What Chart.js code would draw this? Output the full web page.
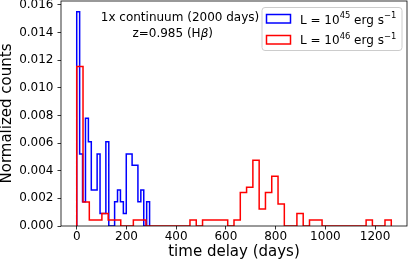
<!DOCTYPE html>
<html>
<head>
<meta charset="utf-8">
<script src="https://cdn.jsdelivr.net/npm/chart.js@4.4.0/dist/chart.umd.min.js"></script>
<style>
  html, body { margin: 0; padding: 0; background: #fff; }
</style>
</head>
<body>
<canvas id="chart" width="409" height="263"></canvas>
<script>
// histogram ranges (days), bins are equal width over the range
const blueRange = [0, 293];
const redRange = [0, 1265];

// normalized counts per bin
const blueCounts = [0.0155, 0.0052, 0.00175, 0.0078, 0.0061, 0.0026, 0.0026, 0.0052, 0.0009, 0.0009,
  0.0061, 0, 0, 0.00175, 0.0026, 0.00175, 0.0009, 0.0052, 0.0052, 0.0044,
  0.0044, 0.00175, 0.0026, 0, 0.00175];
const redCounts = [0.01153, 0.00174, 0.00044, 0.00044, 0.0009, 0.00044, 0.00044, 0, 0, 0.00044,
  0.00044, 0, 0, 0, 0, 0, 0, 0, 0.00044, 0,
  0.00044, 0.00044, 0.00044, 0.00044, 0, 0.00044, 0.00242, 0.00281, 0.00476, 0.00123,
  0.00242, 0.0036, 0.0016, 0, 0, 0.0009, 0, 0.00044, 0.00044, 0,
  0, 0, 0, 0, 0, 0, 0.00044, 0, 0, 0.00044];

const xTicks = [0, 200, 400, 600, 800, 1000, 1200];
const yTicks = [0, 0.002, 0.004, 0.006, 0.008, 0.010, 0.012, 0.014, 0.016];
const xLimits = [-63.25, 1328.25];
const yLimits = [0, 0.016275];

// legend labels: [text, superscript?]
const blueLabel = [['L = 10', false], ['45', true], [' erg s', false], ['\u22121', true]];
const redLabel = [['L = 10', false], ['46', true], [' erg s', false], ['\u22121', true]];
const noteLine1 = '1x continuum (2000 days)';
const noteLine2 = [['z=0.985 (H', false], ['\u03b2', 'italic'], [')', false]];

const FONT = '"DejaVu Sans"';

function stepPoints(range, counts) {
  const w = (range[1] - range[0]) / counts.length;
  const pts = [{ x: range[0], y: 0 }];
  counts.forEach((c, i) => pts.push({ x: range[0] + i * w, y: c }));
  pts.push({ x: range[1], y: 0 });
  return pts;
}

function drawParts(ctx, parts, x, y, size) {
  let cx = x;
  parts.forEach(p => {
    const sup = p[1] === true;
    const style = p[1] === 'italic' ? 'italic ' : '';
    ctx.font = style + (sup ? size * 0.7 : size) + 'px ' + FONT;
    ctx.fillText(p[0], cx, y - (sup ? size * 0.42 : 0));
    cx += ctx.measureText(p[0]).width;
  });
  return cx - x;
}

function partsWidth(ctx, parts, size) {
  let w = 0;
  parts.forEach(p => {
    const sup = p[1] === true;
    const style = p[1] === 'italic' ? 'italic ' : '';
    ctx.font = style + (sup ? size * 0.7 : size) + 'px ' + FONT;
    w += ctx.measureText(p[0]).width;
  });
  return w;
}

const framePlugin = {
  id: 'frame',
  afterDatasetsDraw(chart) {
    const { ctx, chartArea: a } = chart;
    ctx.save();
    ctx.strokeStyle = '#000';
    ctx.lineWidth = 0.8;
    ctx.strokeRect(a.left, a.top, a.right - a.left, a.bottom - a.top);
    ctx.restore();
  },
  afterDraw(chart) {
    const ctx = chart.ctx;
    const ds = chart.data.datasets;
    ctx.save();
    ctx.fillStyle = '#000';
    ctx.textBaseline = 'alphabetic';

    // annotation text
    ctx.font = '12px ' + FONT;
    ctx.textAlign = 'center';
    ctx.fillText(noteLine1, 180, 20.5);
    ctx.textAlign = 'left';
    const w2 = partsWidth(ctx, noteLine2, 12);
    drawParts(ctx, noteLine2, 172.7 - w2 / 2, 36.5, 12);

    // legend box
    ctx.beginPath();
    ctx.roundRect(262, 7.5, 140, 43, 3);
    ctx.fillStyle = 'rgba(255,255,255,0.8)';
    ctx.fill();
    ctx.strokeStyle = '#cccccc';
    ctx.lineWidth = 1;
    ctx.stroke();

    const items = [[ds[0], blueLabel, 14.5, 23.5], [ds[1], redLabel, 35.5, 44]];
    items.forEach(([d, label, top, base]) => {
      ctx.strokeStyle = d.borderColor;
      ctx.lineWidth = 1.5;
      ctx.strokeRect(266.5, top, 24, 8.5);
      ctx.fillStyle = '#000';
      drawParts(ctx, label, 300, base, 12);
    });
    ctx.restore();
  }
};

const tickFont = { family: 'DejaVu Sans', size: 12, lineHeight: 1 };
const titleFont = { family: 'DejaVu Sans', size: 15, lineHeight: 1 };

new Chart(document.getElementById('chart'), {
  type: 'line',
  data: {
    datasets: [
      {
        label: 'L = 10^45 erg s^-1',
        data: stepPoints(blueRange, blueCounts),
        borderColor: '#0000ff',
        backgroundColor: 'rgba(0,0,0,0)',
        borderWidth: 1.5,
        stepped: 'before',
        pointRadius: 0,
        fill: false,
        order: 1
      },
      {
        label: 'L = 10^46 erg s^-1',
        data: stepPoints(redRange, redCounts),
        borderColor: '#ff0000',
        backgroundColor: 'rgba(0,0,0,0)',
        borderWidth: 1.5,
        stepped: 'before',
        pointRadius: 0,
        fill: false,
        order: 0
      }
    ]
  },
  options: {
    responsive: false,
    animation: false,
    layout: { padding: { top: 1, right: 2, left: 0, bottom: 0 } },
    plugins: { legend: { display: false }, tooltip: { enabled: false } },
    scales: {
      x: {
        type: 'linear',
        min: xLimits[0],
        max: xLimits[1],
        afterBuildTicks: s => { s.ticks = xTicks.map(v => ({ value: v })); },
        afterFit: s => {
          s.height = 37;
          s.paddingLeft = 0; s.paddingRight = 0; s.paddingTop = 0; s.paddingBottom = 0;
        },
        ticks: {
          font: tickFont, color: '#000', padding: 1.5, autoSkip: false,
          maxRotation: 0, callback: v => String(v)
        },
        grid: { drawOnChartArea: false, drawTicks: true, tickLength: 3.5, tickColor: '#000', tickWidth: 0.8 },
        border: { display: false },
        title: { display: true, text: 'time delay (days)', font: titleFont, color: '#000', padding: { top: 0, bottom: 3.5 } }
      },
      y: {
        min: yLimits[0],
        max: yLimits[1],
        afterBuildTicks: s => { s.ticks = yTicks.map(v => ({ value: v })); },
        afterFit: s => {
          s.width = 61;
          s.paddingLeft = 0; s.paddingRight = 0; s.paddingTop = 0; s.paddingBottom = 0;
        },
        ticks: { font: tickFont, color: '#000', padding: 4, callback: v => v.toFixed(3) },
        grid: { drawOnChartArea: false, drawTicks: true, tickLength: 3.5, tickColor: '#000', tickWidth: 0.8 },
        border: { display: false },
        title: { display: true, text: 'Normalized counts', font: titleFont, color: '#000', padding: { top: 0, bottom: 0 } }
      }
    }
  },
  plugins: [framePlugin]
});
</script>
</body>
</html>
